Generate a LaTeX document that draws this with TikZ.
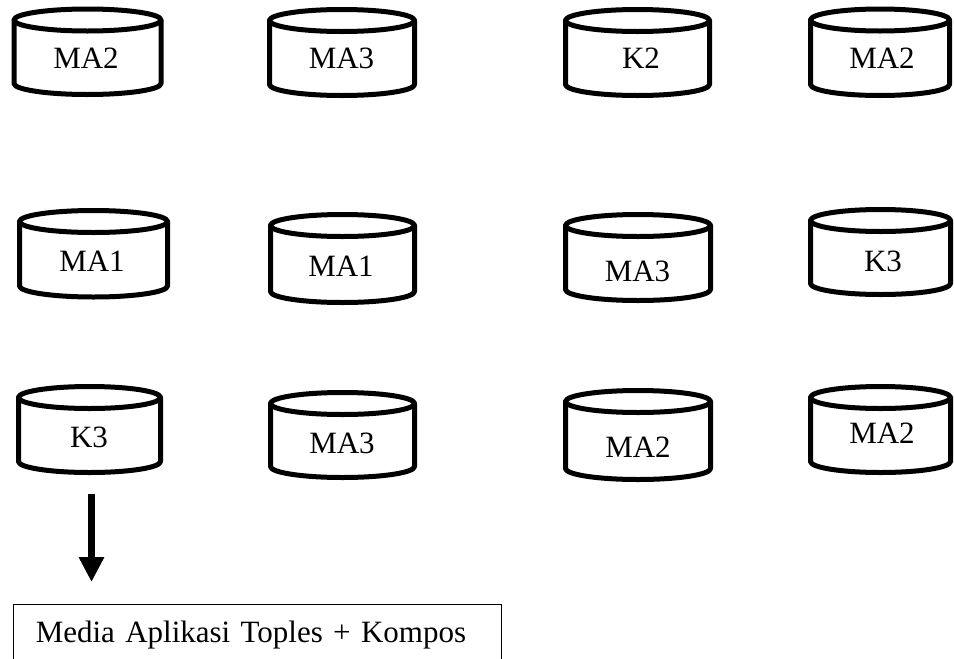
\documentclass[tikz,border=0pt]{standalone}
\usepackage{fontspec}
\setmainfont{Liberation Serif}
\usetikzlibrary{arrows.meta}

\tikzset{
  canline/.style={line width=5pt, line join=round, line cap=round},
  canlabel/.style={font=\fontsize{31}{37}\selectfont, inner sep=0pt, anchor=base},
  mediabox/.style={draw, line width=1.5pt, anchor=north west,
    inner xsep=22.5pt, inner ysep=0pt, text width=443pt, align=left,
    text height=38.5pt, text depth=30pt, font=\fontsize{31}{37}\selectfont},
  flow/.style={line width=7.5pt, -{Triangle[width=24pt,length=25pt]}}
}

% \drawcan{name}{left}{right}{top}{bottom}{label x}{label baseline}{label}
\newcommand{\drawcan}[8]{%
  \pgfmathsetmacro\canmidx{(#2+#3)/2}%
  \pgfmathsetmacro\canrx{(#3-#2)/2}%
  \pgfmathsetmacro\cantopy{#4+11}%
  \pgfmathsetmacro\canboty{#5-11}%
  \draw[canline] (\canmidx,\cantopy) ellipse [x radius=\canrx pt, y radius=11pt];
  \draw[canline] (#2,\cantopy) -- (#2,\canboty)
    arc [start angle=180, end angle=360, x radius=\canrx pt, y radius=11pt]
    -- (#3,\cantopy);
  \node[canlabel] (#1) at (#6,#7) {#8};
}

\begin{document}
\begin{tikzpicture}[x=1pt,y=-1pt]
  \useasboundingbox (0,0) rectangle (954,659);
  \clip (0,0) rectangle (954,659);

  % first row
  \drawcan{c11}{14}{161}{9}{94.5}{86}{68}{MA2}
  \drawcan{c12}{269.5}{414.5}{9.5}{95.5}{341.5}{68}{MA3}
  \drawcan{c13}{565.5}{709.5}{9.5}{95.5}{641}{68}{K2}
  \drawcan{c14}{810.5}{949.5}{9}{95.5}{882}{68}{MA2}

  % second row
  \drawcan{c21}{19.5}{167.5}{210.5}{297}{92}{271}{MA1}
  \drawcan{c22}{270.5}{414.5}{214.5}{302.5}{341}{276}{MA1}
  \drawcan{c23}{565.5}{710.5}{214.5}{300.5}{637.5}{281}{MA3}
  \drawcan{c24}{810.5}{950.5}{209.5}{294.5}{883}{271}{K3}

  % third row
  \drawcan{c31}{18.5}{160.5}{386.5}{472.5}{89}{447}{K3}
  \drawcan{c32}{270.5}{414.5}{392.5}{477.5}{342}{453}{MA3}
  \drawcan{c33}{565.5}{710.5}{390.5}{479.5}{638}{457}{MA2}
  \drawcan{c34}{810.5}{950.5}{386.5}{472.5}{882}{443}{MA2}

  % result box and arrow
  \node[mediabox] (media) at (12.5,603.5) {\mbox{Media Aplikasi Toples + Kompos}};
  \coordinate (flowstart) at (91.5,494);
  \draw[flow, shorten >=21.5pt] (flowstart) -- (flowstart |- media.north);
\end{tikzpicture}
\end{document}
